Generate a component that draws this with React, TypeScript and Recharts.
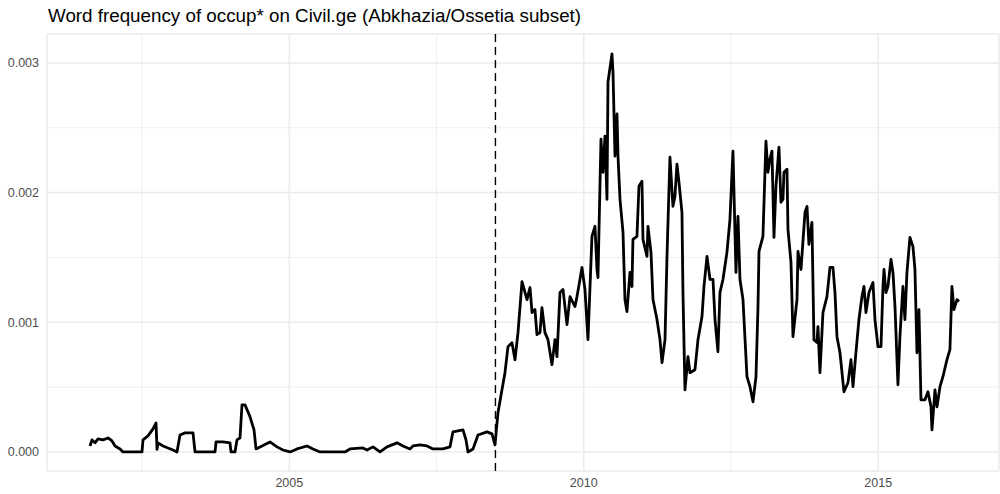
import { LineChart, Line, XAxis, YAxis, CartesianGrid, ReferenceLine } from 'recharts'

// decimal year of each reading
const years = [
  2001.616, 2001.650, 2001.701, 2001.752, 2001.837, 2001.922, 2001.990, 2002.041, 2002.126, 2002.177,
  2002.499, 2002.516, 2002.601, 2002.686, 2002.737, 2002.754, 2002.771, 2002.856, 2003.025, 2003.093,
  2003.144, 2003.229, 2003.365, 2003.399, 2003.739, 2003.756, 2003.874, 2003.993, 2004.010, 2004.078,
  2004.112, 2004.163, 2004.197, 2004.248, 2004.333, 2004.401, 2004.435, 2004.537, 2004.672, 2004.791,
  2004.893, 2005.012, 2005.131, 2005.301, 2005.402, 2005.521, 2005.946, 2006.031, 2006.251, 2006.319,
  2006.421, 2006.540, 2006.659, 2006.829, 2006.930, 2007.049, 2007.100, 2007.219, 2007.338, 2007.440,
  2007.610, 2007.728, 2007.779, 2007.949, 2008.000, 2008.034, 2008.119, 2008.204, 2008.357, 2008.441,
  2008.492, 2008.543, 2008.611, 2008.662, 2008.713, 2008.781, 2008.832, 2008.883, 2008.951, 2009.036,
  2009.087, 2009.121, 2009.171, 2009.205, 2009.256, 2009.290, 2009.341, 2009.392, 2009.460, 2009.511,
  2009.545, 2009.596, 2009.647, 2009.715, 2009.766, 2009.851, 2009.885, 2009.935, 2009.969, 2010.020,
  2010.071, 2010.139, 2010.190, 2010.224, 2010.241, 2010.292, 2010.326, 2010.360, 2010.394, 2010.411,
  2010.479, 2010.496, 2010.530, 2010.564, 2010.581, 2010.615, 2010.666, 2010.699, 2010.733, 2010.784,
  2010.818, 2010.835, 2010.903, 2010.937, 2010.988, 2011.005, 2011.073, 2011.090, 2011.141, 2011.175,
  2011.243, 2011.294, 2011.328, 2011.379, 2011.413, 2011.430, 2011.463, 2011.514, 2011.548, 2011.582,
  2011.616, 2011.667, 2011.684, 2011.718, 2011.769, 2011.803, 2011.888, 2011.939, 2012.007, 2012.041,
  2012.092, 2012.143, 2012.194, 2012.228, 2012.278, 2012.312, 2012.363, 2012.431, 2012.482, 2012.533,
  2012.584, 2012.618, 2012.652, 2012.703, 2012.771, 2012.822, 2012.873, 2012.924, 2012.958, 2012.975,
  2013.042, 2013.093, 2013.127, 2013.161, 2013.195, 2013.229, 2013.263, 2013.314, 2013.348, 2013.382,
  2013.399, 2013.450, 2013.467, 2013.518, 2013.552, 2013.620, 2013.637, 2013.688, 2013.756, 2013.790,
  2013.823, 2013.874, 2013.908, 2013.959, 2013.976, 2014.010, 2014.061, 2014.129, 2014.180, 2014.231,
  2014.265, 2014.299, 2014.350, 2014.418, 2014.486, 2014.537, 2014.571, 2014.621, 2014.672, 2014.723,
  2014.757, 2014.791, 2014.842, 2014.910, 2014.944, 2014.995, 2015.046, 2015.080, 2015.097, 2015.131,
  2015.165, 2015.216, 2015.250, 2015.284, 2015.334, 2015.368, 2015.419, 2015.453, 2015.487, 2015.538,
  2015.589, 2015.623, 2015.657, 2015.691, 2015.725, 2015.793, 2015.844, 2015.895, 2015.912, 2015.963,
  2015.997, 2016.048, 2016.098, 2016.166, 2016.217, 2016.251, 2016.285, 2016.336, 2016.370,
]

// word frequency of occup*
const occupFreq = [
  0.000046, 0.000093, 0.000070, 0.000100, 0.000093, 0.000108, 0.000085, 0.000046, 0.000023, 0.0,
  0.0, 0.000093, 0.000124, 0.000178, 0.000224, 0.000020, 0.000070, 0.000046, 0.000015, 0.0,
  0.000131, 0.000147, 0.000147, 0.0, 0.0, 0.000077, 0.000077, 0.000070, 0.0, 0.0,
  0.000093, 0.000108, 0.000363, 0.000363, 0.000271, 0.000170, 0.000023, 0.000046, 0.000077, 0.000039,
  0.000015, 0.0, 0.000023, 0.000046, 0.000023, 0.0, 0.0, 0.000023, 0.000031, 0.000015,
  0.000039, 0.0, 0.000039, 0.000070, 0.000046, 0.000023, 0.000046, 0.000054, 0.000046, 0.000023,
  0.000023, 0.000039, 0.000155, 0.000170, 0.000093, 0.0, 0.000023, 0.000131, 0.000155, 0.000139,
  0.000054, 0.000302, 0.000479, 0.000611, 0.000812, 0.000843, 0.000711, 0.000920, 0.001314, 0.001175,
  0.001268, 0.001075, 0.001098, 0.000905, 0.000920, 0.001113, 0.000920, 0.000866, 0.000673, 0.000866,
  0.000735, 0.001229, 0.001253, 0.000982, 0.001198, 0.001121, 0.001198, 0.001330, 0.001423, 0.001253,
  0.000866, 0.001662, 0.001740, 0.001407, 0.001345, 0.002412, 0.002157, 0.002436, 0.001948, 0.002853,
  0.003070, 0.002930, 0.002281, 0.002606, 0.002281, 0.001948, 0.001693, 0.001175, 0.001082, 0.001384,
  0.001276, 0.001639, 0.001662, 0.002049, 0.002088, 0.001639, 0.001508, 0.001740, 0.001539, 0.001175,
  0.001021, 0.000866, 0.000688, 0.000866, 0.001508, 0.001771, 0.002273, 0.001894, 0.001972, 0.002219,
  0.002080, 0.001848, 0.001229, 0.000479, 0.000735, 0.000611, 0.000634, 0.000866, 0.001044, 0.001276,
  0.001508, 0.001330, 0.001330, 0.001021, 0.000773, 0.001229, 0.001330, 0.001539, 0.001794, 0.002320,
  0.001384, 0.001817, 0.001330, 0.001175, 0.000580, 0.000503, 0.000387, 0.000580, 0.001121, 0.001546,
  0.001662, 0.002397, 0.002157, 0.002258, 0.002320, 0.001655, 0.002049, 0.002351, 0.001925, 0.001948,
  0.002157, 0.002180, 0.001717, 0.001461, 0.000889, 0.001175, 0.001546, 0.001407, 0.001848, 0.001894,
  0.001601, 0.001771, 0.000866, 0.000843, 0.000967, 0.000611, 0.001075, 0.001198, 0.001423, 0.001423,
  0.001229, 0.000889, 0.000765, 0.000464, 0.000534, 0.000711, 0.000503, 0.000765, 0.001021, 0.001198,
  0.001276, 0.001075, 0.001229, 0.001307, 0.001021, 0.000812, 0.000812, 0.001276, 0.001407, 0.001229,
  0.001276, 0.001485, 0.001384, 0.001121, 0.000518, 0.000889, 0.001276, 0.001021, 0.001384, 0.001655,
  0.001585, 0.001407, 0.000765, 0.001098, 0.000402, 0.000402, 0.000464, 0.000348, 0.000170, 0.000479,
  0.000348, 0.000503, 0.000580, 0.000711, 0.000789, 0.001276, 0.001098, 0.001175, 0.001160,
]

const xTicks = [2005, 2010, 2015]
const xMinor = [2002.5, 2007.5, 2012.5]
const yTicks = [0, 0.001, 0.002, 0.003]
const yMinor = [0.0005, 0.0015, 0.0025]
const warDate = 2008.5

const data = years.map((t, i) => ({ t, v: occupFreq[i] }))

const font = '"Liberation Sans", Arial, sans-serif'
const grid = '#EBEBEB'

export default function App() {
  return (
    <div style={{ position: 'absolute', left: 0, top: 0, width: 1000, height: 494, background: '#fff', fontFamily: font }}>
      <div
        style={{
          position: 'absolute',
          left: 48,
          top: 5,
          fontSize: 18.8,
          lineHeight: '22px',
          color: '#000',
          whiteSpace: 'nowrap',
        }}
      >
        Word frequency of occup* on Civil.ge (Abkhazia/Ossetia subset)
      </div>
      <LineChart width={1000} height={494} data={data} margin={{ top: 34, right: 1, bottom: 0, left: 0 }}>
        <CartesianGrid stroke={grid} strokeWidth={1.5} />
        {xMinor.map((x) => (
          <ReferenceLine key={'x' + x} x={x} stroke={grid} strokeWidth={0.8} />
        ))}
        {yMinor.map((y) => (
          <ReferenceLine key={'y' + y} y={y} stroke={grid} strokeWidth={0.8} />
        ))}
        <XAxis
          dataKey="t"
          type="number"
          domain={[2000.886, 2017.05]}
          allowDataOverflow
          ticks={xTicks}
          axisLine={false}
          tickLine={false}
          tickSize={0}
          tickMargin={7}
          height={23}
          tick={{ fill: '#4D4D4D', fontSize: 12.5, fontFamily: font }}
        />
        <YAxis
          type="number"
          domain={[-0.000147, 0.003223]}
          allowDataOverflow
          ticks={yTicks}
          tickFormatter={(v: number) => v.toFixed(3)}
          axisLine={false}
          tickLine={false}
          tickSize={0}
          tickMargin={8}
          width={47}
          tick={{ fill: '#4D4D4D', fontSize: 12.5, fontFamily: font }}
        />
        <ReferenceLine x={warDate} stroke="#000" strokeWidth={1.4} strokeDasharray="8 5" />
        <Line
          type="linear"
          dataKey="v"
          stroke="#000"
          strokeWidth={2.8}
          strokeLinejoin="round"
          dot={false}
          activeDot={false}
          isAnimationActive={false}
        />
      </LineChart>
    </div>
  )
}
